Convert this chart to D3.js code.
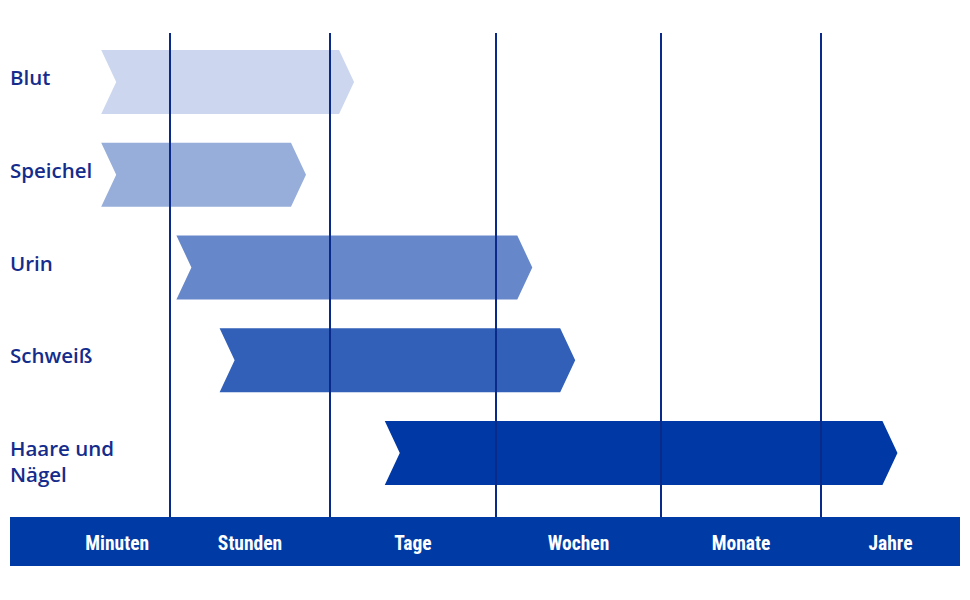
<!DOCTYPE html>
<html><head><meta charset="utf-8">
<script src="https://cdn.jsdelivr.net/npm/d3@7"></script>
<style>body{margin:0;background:#fff}</style>
</head><body>
<svg id="c" width="970" height="600"></svg>
<script>
// Data
const categories = ["Blut", "Speichel", "Urin", "Schweiß", "Haare und\nNägel"];
const startValues = [0.57, 0.57, 1.04, 1.31, 2.33];
const endValues = [2.145, 1.85, 3.22, 3.48, 5.55];
const colors = ["#ccd7ef", "#97aedb", "#6688cb", "#3260b9", "#0039a6"];
const tickLabels = ["Minuten", "Stunden", "Tage", "Wochen", "Monate", "Jahre"];
const tickPositions = [0.67, 1.5, 2.5, 3.5, 4.5, 5.5];
const boundaries = [1, 2, 3, 4, 5];

const svg = d3.select("#c");
const x = d3.scaleLinear().domain([0, 1, 2, 3, 4, 5, 6]).range([10, 170, 330, 496, 661, 821, 960]);
const y = d3.scalePoint().domain(categories).range([82, 453]);
const barH = 64, notch = 15;

// arrows
svg.append("g").selectAll("path").data(categories).join("path")
  .attr("d", (c, i) => {
    const x0 = x(startValues[i]), x1 = x(endValues[i]), yc = y(c);
    const t = yc - barH / 2, b = yc + barH / 2;
    return `M${x0},${t}L${x1 - notch},${t}L${x1},${yc}L${x1 - notch},${b}L${x0},${b}L${x0 + notch},${yc}Z`;
  })
  .attr("fill", (c, i) => colors[i]);

// vertical lines
svg.append("g").selectAll("line").data(boundaries).join("line")
  .attr("x1", d => x(d)).attr("x2", d => x(d))
  .attr("y1", 33).attr("y2", 517)
  .attr("stroke", "#0a2a8a").attr("stroke-width", 2);

// category labels
const lab = svg.append("g").selectAll("text").data(categories).join("text")
  .attr("x", 10)
  .attr("y", c => y(c) - 4)
  .attr("font-family", "'Open Sans', sans-serif")
  .attr("font-size", 20.5)
  .attr("font-weight", 600)
  .attr("fill", "#142c8c");
lab.each(function (c) {
  const lines = c.split("\n");
  const t = d3.select(this);
  lines.forEach((l, k) => {
    t.append("tspan").attr("x", 10)
      .attr("dy", k === 0 ? "0.35em" : "1.27em")
      .text(l);
  });
});

// bottom band
svg.append("rect").attr("x", x(0)).attr("y", 517)
  .attr("width", x(6) - x(0)).attr("height", 49).attr("fill", "#003aa5");

svg.append("g").selectAll("text").data(tickLabels).join("text")
  .attr("x", (d, i) => x(tickPositions[i]))
  .attr("y", 550)
  .attr("text-anchor", "middle")
  .attr("font-family", "'Liberation Sans Narrow', 'Roboto Condensed', 'Liberation Sans', sans-serif")
  .attr("font-stretch", "condensed")
  .attr("font-weight", "bold")
  .attr("font-size", 19.5)
  .attr("fill", "#fff")
  .text(d => d);
</script>
</body></html>
